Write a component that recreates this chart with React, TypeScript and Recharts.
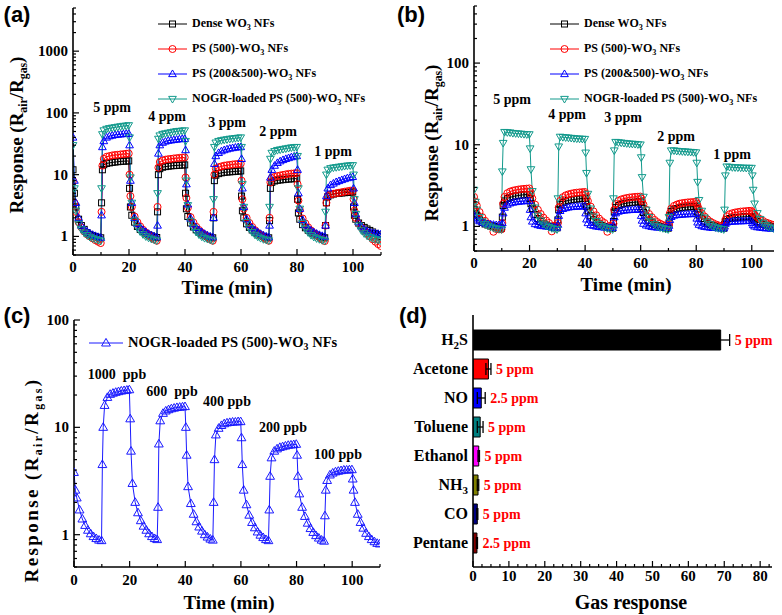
import React from 'react';
import { LineChart, Line, XAxis, YAxis, BarChart, Bar, Cell, ErrorBar, LabelList } from 'recharts';

const SERIF = '"Liberation Serif","Times New Roman",serif';
const SANS = '"Liberation Sans",Arial,sans-serif';

// sample times (min), shared by all transient curves
const T = [
  0, 0.5, 1, 2, 3, 4, 5, 6, 7, 8, 9, 9.9,
  10.2, 10.5, 11, 12, 13, 14, 15, 16, 17, 18, 19, 19.9,
  20.2, 20.5, 21, 22, 23, 24, 25, 26, 27, 28, 29, 29.9,
  30.2, 30.5, 31, 32, 33, 34, 35, 36, 37, 38, 39, 39.9,
  40.2, 40.5, 41, 42, 43, 44, 45, 46, 47, 48, 49, 49.9,
  50.2, 50.5, 51, 52, 53, 54, 55, 56, 57, 58, 59, 59.9,
  60.2, 60.5, 61, 62, 63, 64, 65, 66, 67, 68, 69, 69.9,
  70.2, 70.5, 71, 72, 73, 74, 75, 76, 77, 78, 79, 79.9,
  80.2, 80.5, 81, 82, 83, 84, 85, 86, 87, 88, 89, 89.9,
  90.2, 90.5, 91, 92, 93, 94, 95, 96, 97, 98, 99, 99.9,
  100.2, 100.5, 101, 102, 103, 104, 105, 106, 107, 108, 109, 109.9,
];

// (a) responses
const aDense = [
  12, 5, 3, 1.9, 1.5, 1.3, 1.15, 1.08, 1.03, 1.0, 0.97, 0.95,
  3.5, 12, 14.5, 15.2, 15.5, 15.8, 16, 16.2, 16.4, 16.5, 16.6, 16.7,
  6, 3, 2.2, 1.7, 1.45, 1.3, 1.2, 1.12, 1.06, 1.02, 0.98, 0.96,
  2.5, 10, 12.5, 13.2, 13.5, 13.7, 13.9, 14, 14.1, 14.2, 14.3, 14.4,
  5, 2.8, 2.1, 1.65, 1.42, 1.28, 1.18, 1.1, 1.05, 1.0, 0.97, 0.95,
  2, 8, 9.8, 10.4, 10.7, 10.9, 11, 11.1, 11.2, 11.3, 11.4, 11.5,
  4.5, 2.6, 2, 1.6, 1.4, 1.27, 1.17, 1.1, 1.05, 1, 0.97, 0.95,
  1.8, 6, 7.5, 7.9, 8.1, 8.2, 8.3, 8.4, 8.5, 8.55, 8.6, 8.65,
  4, 2.4, 1.9, 1.55, 1.38, 1.26, 1.17, 1.1, 1.05, 1, 0.97, 0.95,
  1.5, 3.5, 4.4, 4.7, 4.85, 4.95, 5, 5.05, 5.1, 5.15, 5.2, 5.25,
  3, 2.2, 1.9, 1.65, 1.5, 1.4, 1.32, 1.25, 1.18, 1.12, 1.06, 1.0,
];
const aPS500 = [
  8, 3.5, 2.5, 1.7, 1.4, 1.2, 1.08, 1, 0.93, 0.87, 0.82, 0.78,
  2.5, 14, 18, 19.5, 20, 20.5, 20.8, 21, 21.3, 21.5, 21.8, 22,
  10, 4.5, 3, 2.1, 1.7, 1.45, 1.28, 1.15, 1.05, 0.97, 0.9, 0.85,
  3, 13, 16, 17, 17.5, 17.8, 18, 18.3, 18.5, 18.7, 18.9, 19,
  9, 4.2, 2.9, 2.05, 1.68, 1.43, 1.27, 1.15, 1.05, 0.97, 0.9, 0.85,
  2.5, 10, 12.5, 13.2, 13.6, 14, 14.2, 14.4, 14.6, 14.8, 14.9, 15,
  8, 4, 2.8, 2, 1.65, 1.42, 1.26, 1.14, 1.05, 0.97, 0.9, 0.85,
  2, 7.5, 8.8, 9.2, 9.5, 9.7, 9.9, 10.1, 10.3, 10.4, 10.5, 10.6,
  7, 3.8, 2.7, 1.95, 1.62, 1.4, 1.25, 1.13, 1.04, 0.96, 0.89, 0.84,
  1.5, 3.5, 4.5, 4.8, 4.9, 5, 5.1, 5.2, 5.3, 5.4, 5.5, 5.5,
  4, 2.6, 2, 1.6, 1.4, 1.25, 1.12, 1, 0.9, 0.82, 0.75, 0.7,
];
const aPS200 = [
  40, 8, 3.5, 2, 1.5, 1.3, 1.2, 1.12, 1.06, 1.02, 0.98, 0.95,
  2.2, 28, 35, 40, 42, 43, 44, 44.5, 45, 45.5, 46, 46,
  30, 8, 3.5, 2, 1.6, 1.4, 1.27, 1.18, 1.1, 1.05, 1, 0.97,
  1.5, 22, 30, 33, 34.5, 35.5, 36, 36.5, 37, 37.5, 38, 38,
  25, 7, 3.3, 1.95, 1.58, 1.38, 1.26, 1.17, 1.1, 1.04, 1, 0.97,
  2, 15, 20, 22.5, 24, 25, 25.8, 26.5, 27, 27.5, 28, 28,
  18, 6, 3, 1.9, 1.55, 1.36, 1.25, 1.16, 1.1, 1.04, 1, 0.97,
  1.5, 9, 12, 14, 15.5, 16.5, 17.3, 18, 18.6, 19.2, 19.7, 20,
  12, 5, 2.8, 1.85, 1.52, 1.35, 1.25, 1.17, 1.11, 1.06, 1.02, 0.99,
  1.5, 4.5, 6, 6.8, 7.2, 7.6, 7.9, 8.2, 8.5, 8.8, 9, 9.2,
  6, 3.5, 2.3, 1.7, 1.45, 1.3, 1.22, 1.17, 1.14, 1.12, 1.1, 1.08,
];
const aNOGR = [
  30, 6, 2.6, 1.6, 1.3, 1.15, 1.05, 0.98, 0.93, 0.9, 0.87, 0.85,
  6, 45, 52, 55, 56.5, 57.5, 58.5, 59.5, 60.5, 61.5, 62, 63,
  40, 9, 3.5, 1.8, 1.4, 1.2, 1.08, 1, 0.95, 0.91, 0.88, 0.86,
  5, 38, 43, 45.5, 46.5, 47.5, 48.5, 49.5, 50.5, 51, 51.5, 52,
  35, 8, 3.2, 1.75, 1.38, 1.18, 1.07, 0.99, 0.94, 0.91, 0.88, 0.86,
  4, 28, 33, 35, 36, 36.7, 37.3, 38, 38.5, 39, 39.5, 40,
  28, 7, 3, 1.7, 1.35, 1.17, 1.06, 0.99, 0.94, 0.9, 0.88, 0.86,
  3, 18, 22.5, 24, 25, 25.5, 26, 26.5, 27, 27.5, 27.8, 28,
  20, 6, 2.8, 1.65, 1.33, 1.16, 1.05, 0.98, 0.93, 0.9, 0.87, 0.85,
  2.5, 10, 12, 12.7, 13, 13.2, 13.4, 13.6, 13.8, 14, 14.1, 14.2,
  10, 4, 2.3, 1.5, 1.25, 1.12, 1.03, 0.97, 0.93, 0.9, 0.88, 0.86,
];

// (b) responses
const bDense = [
  1.6, 1.45, 1.35, 1.2, 1.12, 1.07, 1.04, 1.02, 1, 0.98, 0.96, 0.95,
  1.3, 1.8, 2.05, 2.2, 2.27, 2.32, 2.36, 2.39, 2.42, 2.44, 2.46, 2.47,
  2.2, 1.9, 1.65, 1.4, 1.25, 1.15, 1.08, 1.04, 1.01, 0.99, 0.97, 0.96,
  1.2, 1.6, 1.85, 1.97, 2.04, 2.08, 2.11, 2.14, 2.16, 2.18, 2.2, 2.21,
  2, 1.75, 1.55, 1.35, 1.22, 1.13, 1.07, 1.03, 1, 0.98, 0.96, 0.95,
  1.15, 1.5, 1.7, 1.8, 1.86, 1.9, 1.93, 1.95, 1.97, 1.98, 2, 2,
  1.85, 1.65, 1.48, 1.3, 1.19, 1.11, 1.06, 1.03, 1, 0.98, 0.96, 0.95,
  1.1, 1.35, 1.52, 1.6, 1.65, 1.68, 1.7, 1.72, 1.73, 1.74, 1.75, 1.76,
  1.65, 1.5, 1.38, 1.25, 1.16, 1.1, 1.05, 1.02, 1, 0.98, 0.96, 0.95,
  1.05, 1.15, 1.22, 1.25, 1.27, 1.28, 1.29, 1.3, 1.31, 1.31, 1.32, 1.32,
  1.28, 1.24, 1.2, 1.15, 1.1, 1.07, 1.04, 1.02, 1, 0.98, 0.97, 0.96,
];
const bPS500 = [
  2.3, 2, 1.8, 1.5, 1.3, 1.17, 1.08, 1, 0.86, 0.93, 0.92, 0.92,
  1.1, 1.9, 2.3, 2.55, 2.67, 2.74, 2.79, 2.83, 2.86, 2.88, 2.9, 2.92,
  2.7, 2.45, 2.2, 1.85, 1.6, 1.42, 1.28, 1.18, 1.1, 0.87, 1.02, 1,
  1.1, 1.7, 2.05, 2.28, 2.4, 2.47, 2.52, 2.56, 2.59, 2.61, 2.63, 2.64,
  2.5, 2.3, 2.05, 1.75, 1.53, 1.37, 1.25, 1.16, 1.1, 0.86, 1.02, 1,
  1.08, 1.6, 1.88, 2.05, 2.14, 2.19, 2.23, 2.26, 2.28, 2.3, 2.31, 2.32,
  2.2, 2.05, 1.85, 1.6, 1.42, 1.3, 1.2, 1.13, 1.08, 1.04, 1.02, 1,
  1.05, 1.45, 1.65, 1.78, 1.85, 1.9, 1.93, 1.95, 1.97, 1.98, 1.99, 2,
  1.9, 1.78, 1.62, 1.45, 1.32, 1.22, 1.15, 1.1, 1.06, 1.03, 1.01, 1,
  1.02, 1.2, 1.33, 1.41, 1.45, 1.48, 1.5, 1.52, 1.53, 1.54, 1.55, 1.55,
  1.5, 1.45, 1.38, 1.3, 1.23, 1.17, 1.12, 1.09, 1.06, 1.04, 1.02, 1.01,
];
const bPS200 = [
  1.35, 1.28, 1.22, 1.16, 1.12, 1.09, 1.07, 1.06, 1.05, 1.04, 1.04, 1.03,
  1.1, 1.45, 1.7, 1.85, 1.92, 1.96, 1.99, 2.01, 2.03, 2.04, 2.05, 2.05,
  1.6, 1.3, 1.15, 1.07, 1.04, 1.02, 1.01, 1, 0.99, 0.98, 0.97, 0.97,
  1.05, 1.35, 1.55, 1.64, 1.68, 1.71, 1.73, 1.74, 1.75, 1.76, 1.76, 1.77,
  1.45, 1.22, 1.1, 1.04, 1.02, 1, 0.99, 0.98, 0.97, 0.97, 0.96, 0.96,
  1.03, 1.3, 1.45, 1.52, 1.55, 1.57, 1.58, 1.59, 1.6, 1.6, 1.61, 1.61,
  1.35, 1.18, 1.08, 1.03, 1.01, 0.99, 0.98, 0.97, 0.97, 0.96, 0.96, 0.96,
  1.02, 1.2, 1.31, 1.36, 1.38, 1.39, 1.4, 1.41, 1.41, 1.42, 1.42, 1.42,
  1.25, 1.12, 1.05, 1.01, 0.99, 0.98, 0.97, 0.96, 0.96, 0.95, 0.95, 0.95,
  1, 1.08, 1.12, 1.14, 1.15, 1.15, 1.16, 1.16, 1.16, 1.17, 1.17, 1.17,
  1.1, 1.04, 1, 0.98, 0.97, 0.96, 0.95, 0.95, 0.94, 0.94, 0.93, 0.93,
];
const bNOGR = [
  2.8, 2, 1.6, 1.3, 1.15, 1.07, 1.02, 0.99, 0.96, 0.94, 0.93, 0.92,
  4.7, 10.5, 14.3, 14.2, 14.1, 13.9, 13.8, 13.7, 13.6, 13.5, 13.4, 13.4,
  9, 5, 2.7, 1.7, 1.35, 1.18, 1.08, 1.02, 0.98, 0.95, 0.93, 0.92,
  2.2, 9.5, 12.5, 12.4, 12.3, 12.2, 12.1, 12, 11.9, 11.85, 11.8, 11.75,
  8, 4.5, 2.5, 1.65, 1.32, 1.16, 1.07, 1.01, 0.97, 0.95, 0.93, 0.92,
  2.2, 8.5, 10.8, 10.7, 10.6, 10.5, 10.4, 10.3, 10.25, 10.2, 10.1, 10.05,
  7, 4, 2.3, 1.6, 1.3, 1.15, 1.06, 1, 0.97, 0.95, 0.93, 0.92,
  1.3, 6, 8.5, 8.5, 8.4, 8.35, 8.3, 8.25, 8.2, 8.15, 8.1, 8.05,
  6, 3.5, 2.1, 1.55, 1.28, 1.14, 1.06, 1, 0.97, 0.95, 0.93, 0.92,
  1.6, 4.2, 5.4, 5.35, 5.3, 5.28, 5.26, 5.24, 5.22, 5.2, 5.2, 5.2,
  4.2, 2.8, 1.9, 1.45, 1.23, 1.11, 1.04, 0.99, 0.96, 0.94, 0.93, 0.92,
];

// (c) response (ppb levels)
const cNOGR = [
  3.8, 2.6, 2.2, 1.7, 1.4, 1.22, 1.1, 1.02, 0.96, 0.92, 0.89, 0.88,
  4.5, 10, 16, 19, 20.3, 20.8, 21.2, 21.5, 21.8, 22, 22.2, 22.4,
  12, 6, 3, 2, 1.6, 1.35, 1.2, 1.1, 1.02, 0.96, 0.92, 0.9,
  1.8, 7, 11.5, 13.5, 14.2, 14.6, 14.9, 15.1, 15.3, 15.4, 15.5, 15.6,
  10, 5.5, 2.8, 1.95, 1.55, 1.32, 1.18, 1.08, 1, 0.95, 0.91, 0.89,
  2, 5, 8.5, 9.8, 10.4, 10.8, 11, 11.1, 11.2, 11.2, 11.3, 11.3,
  8, 4.5, 2.6, 1.9, 1.52, 1.3, 1.16, 1.06, 0.99, 0.94, 0.9, 0.88,
  1.7, 3.5, 5.2, 6, 6.3, 6.5, 6.6, 6.7, 6.8, 6.85, 6.9, 6.95,
  5.5, 3.5, 2.4, 1.8, 1.48, 1.28, 1.14, 1.05, 0.98, 0.93, 0.89, 0.87,
  1.5, 2.6, 3.2, 3.6, 3.75, 3.85, 3.9, 3.95, 4, 4, 4.02, 4.03,
  3.3, 2.6, 2, 1.55, 1.3, 1.15, 1.03, 0.96, 0.9, 0.86, 0.83, 0.82,
];

// (d) selectivity
const gasNames = ['H2S', 'Acetone', 'NO', 'Toluene', 'Ethanol', 'NH3', 'CO', 'Pentane'];
const gasResp = [69, 4.3, 2.3, 2.0, 1.6, 1.4, 1.2, 1.1];
const gasErr = [2.5, 0.7, 1.1, 0.8, 0.2, 0.2, 0.15, 0.15];
const gasConc = ['5 ppm', '5 ppm', '2.5 ppm', '5 ppm', '5 ppm', '5 ppm', '5 ppm', '2.5 ppm'];
const gasColors = ['#000000', '#ff0000', '#0000ff', '#008080', '#ff00ff', '#808000', '#000080', '#800000'];

// ticks
const timeTicks = [0, 10, 20, 30, 40, 50, 60, 70, 80, 90, 100, 110];
const timeTicksB = [0, 10, 20, 30, 40, 50, 60, 70, 80, 90, 100];
const timeMajors = [0, 20, 40, 60, 80, 100];
const aYTicks = [0.5, 0.6, 0.7, 0.8, 0.9, 1, 2, 3, 4, 5, 6, 7, 8, 9, 10, 20, 30, 40, 50, 60, 70, 80, 90, 100, 200, 300, 400, 500, 600, 700, 800, 900, 1000, 2000, 3000, 4000, 5000];
const bYTicks = [0.5, 0.6, 0.7, 0.8, 0.9, 1, 2, 3, 4, 5, 6, 7, 8, 9, 10, 20, 30, 40, 50, 60, 70, 80, 90, 100, 200, 300, 400, 500];
const cYTicks = [0.5, 0.6, 0.7, 0.8, 0.9, 1, 2, 3, 4, 5, 6, 7, 8, 9, 10, 20, 30, 40, 50, 60, 70, 80, 90, 100];
const decades = [1, 10, 100, 1000];
const respTicks = [0, 2.5, 5, 7.5, 10, 12.5, 15, 17.5, 20, 22.5, 25, 27.5, 30, 32.5, 35, 37.5, 40, 42.5, 45, 47.5, 50, 52.5, 55, 57.5, 60, 62.5, 65, 67.5, 70, 72.5, 75, 77.5, 80, 82.5];
const respMajors = [0, 10, 20, 30, 40, 50, 60, 70, 80];

const aConc = ['5 ppm', '4 ppm', '3 ppm', '2 ppm', '1 ppm'];
const cConc = ['1000  ppb', '600  ppb', '400 ppb', '200 ppb', '100 ppb'];

const TEAL = '#129a8c';
const AX = { stroke: '#000', strokeWidth: 1.6 };

const aData = T.map((t, i) => ({ t, dense: aDense[i], ps500: aPS500[i], ps200: aPS200[i], nogr: aNOGR[i] }));
const bData = T.map((t, i) => ({ t, dense: bDense[i], ps500: bPS500[i], ps200: bPS200[i], nogr: bNOGR[i] }));
const cData = T.map((t, i) => ({ t, nogr: cNOGR[i] }));
const dData = gasNames.map((name, i) => ({ name, v: gasResp[i], e: gasErr[i], c: gasConc[i] }));

type Shape = 'square' | 'circle' | 'up' | 'down';
const fourSeries: { key: string; color: string; shape: Shape; size: number }[] = [
  { key: 'dense', color: '#000000', shape: 'square', size: 6 },
  { key: 'ps500', color: '#ff0000', shape: 'circle', size: 7 },
  { key: 'ps200', color: '#0000ff', shape: 'up', size: 7 },
  { key: 'nogr', color: TEAL, shape: 'down', size: 7 },
];

function Mk({ cx, cy, shape, color, size }: { cx: number; cy: number; shape: Shape; color: string; size: number }) {
  if (cx == null || cy == null || isNaN(cx) || isNaN(cy)) return null;
  const h = size / 2;
  const c = { fill: 'none', stroke: color, strokeWidth: 1 };
  if (shape === 'square') return <rect x={cx - h} y={cy - h} width={size} height={size} {...c} />;
  if (shape === 'circle') return <circle cx={cx} cy={cy} r={h} {...c} />;
  if (shape === 'up')
    return <polygon points={`${cx},${cy - h * 1.15} ${cx - h * 1.1},${cy + h * 0.75} ${cx + h * 1.1},${cy + h * 0.75}`} {...c} />;
  return <polygon points={`${cx},${cy + h * 1.15} ${cx - h * 1.1},${cy - h * 0.75} ${cx + h * 1.1},${cy - h * 0.75}`} {...c} />;
}

const tickText = { fontFamily: SERIF, fontWeight: 'bold' as const, fill: '#000' };

function BottomTick(p: any) {
  const { x, y, payload, majors, dy, fs } = p;
  const v = payload.value;
  const major = majors.indexOf(v) >= 0;
  return (
    <g>
      <line x1={x} x2={x} y1={y} y2={y - (major ? 6 : 3)} stroke="#000" strokeWidth={1.2} />
      {major && (
        <text x={x} y={y + dy} textAnchor="middle" fontSize={fs} {...tickText}>
          {String(v)}
        </text>
      )}
    </g>
  );
}
function TopTick(p: any) {
  const { x, y, payload, majors } = p;
  const major = majors.indexOf(payload.value) >= 0;
  return <line x1={x} x2={x} y1={y} y2={y + (major ? 6 : 3)} stroke="#000" strokeWidth={1.2} />;
}
function LeftTick(p: any) {
  const { x, y, payload, majors, fs } = p;
  const v = payload.value;
  const major = majors.indexOf(v) >= 0;
  return (
    <g>
      <line x1={x} x2={x + (major ? 6 : 3)} y1={y} y2={y} stroke="#000" strokeWidth={1.2} />
      {major && (
        <text x={x - 5} y={y + 5} textAnchor="end" fontSize={fs} {...tickText}>
          {String(v)}
        </text>
      )}
    </g>
  );
}
function RightTick(p: any) {
  const { x, y, payload, majors } = p;
  const major = majors.indexOf(payload.value) >= 0;
  return <line x1={x} x2={x - (major ? 6 : 3)} y1={y} y2={y} stroke="#000" strokeWidth={1.2} />;
}
function GasTick(p: any) {
  const { x, y, payload } = p;
  const parts: string[] = String(payload.value).split(/(\d)/).filter((s: string) => s.length > 0);
  let shifted = false;
  return (
    <text x={x} y={y + 5} textAnchor="end" fontSize={16} {...tickText}>
      {parts.map((s, i) => {
        if (/\d/.test(s)) {
          shifted = true;
          return <tspan key={i} dy={4} fontSize={11}>{s}</tspan>;
        }
        const d = shifted ? -4 : 0;
        shifted = false;
        return <tspan key={i} dy={d}>{s}</tspan>;
      })}
    </text>
  );
}
function BarLabel(p: any) {
  const vb = p.viewBox || p;
  const i = p.index;
  const x = vb.x, y = vb.y, w = vb.width, h = vb.height;
  const v = gasResp[i], e = gasErr[i];
  const xe = x + (w * (v + e)) / v + 5;
  return (
    <text x={xe} y={y + h / 2 + 5} fill="#ff0000" fontSize={14} fontFamily={SERIF} fontWeight="bold">
      {gasConc[i]}
    </text>
  );
}

function TimePanel(props: {
  left: number; top: number; w: number; h: number;
  margin: { top: number; right: number; left: number; bottom: number };
  yW: number; xH: number; data: any[]; series: typeof fourSeries;
  xDomain: [number, number]; xTicks: number[]; yDomain: [number, number]; yTicks: number[]; xDy: number;
}) {
  const { left, top, w, h, margin, yW, xH, data, series, xDomain, xTicks, yDomain, yTicks, xDy } = props;
  return (
    <div style={{ position: 'absolute', left, top }}>
      <LineChart width={w} height={h} data={data} margin={margin}>
        <XAxis xAxisId="x" type="number" dataKey="t" domain={xDomain} ticks={xTicks} interval={0} allowDataOverflow
          height={xH} tickSize={0} tickMargin={0} tickLine={false} axisLine={AX}
          tick={(p: any) => <BottomTick {...p} majors={timeMajors} dy={xDy} fs={15} />} />
        <XAxis xAxisId="top" orientation="top" type="number" domain={xDomain} ticks={xTicks} interval={0} allowDataOverflow
          height={0} tickSize={0} tickMargin={0} tickLine={false} axisLine={AX} tick={false} />
        <YAxis yAxisId="y" type="number" scale="log" domain={yDomain} ticks={yTicks} interval={0} allowDataOverflow
          width={yW} tickSize={0} tickMargin={0} tickLine={false} axisLine={AX}
          tick={(p: any) => <LeftTick {...p} majors={decades} fs={15} />} />
        <YAxis yAxisId="r" orientation="right" type="number" scale="log" domain={yDomain} ticks={yTicks} interval={0} allowDataOverflow
          width={0} tickSize={0} tickMargin={0} tickLine={false} axisLine={AX}
          tick={(p: any) => <RightTick {...p} majors={decades} />} />
        {series.map((s) => (
          <Line key={s.key} xAxisId="x" yAxisId="y" dataKey={s.key} type="linear" stroke={s.color} strokeWidth={1}
            isAnimationActive={false} activeDot={false}
            dot={(p: any) => <Mk key={`${s.key}${p.index}`} cx={p.cx} cy={p.cy} shape={s.shape} color={s.color} size={s.size} />} />
        ))}
      </LineChart>
    </div>
  );
}

const Sub = ({ children, size = '0.68em', drop = '-0.32em' }: any) => (
  <span style={{ fontSize: size, verticalAlign: drop }}>{children}</span>
);

function Txt({ x, y, size, children, color = '#000', family = SERIF, rotate = false, spacing = 0 }: any) {
  return (
    <div style={{
      position: 'absolute', left: x, top: y, transform: `translate(-50%,-50%)${rotate ? ' rotate(-90deg)' : ''}`,
      fontFamily: family, fontWeight: 'bold', fontSize: size, color, whiteSpace: 'pre', lineHeight: 1,
      letterSpacing: spacing,
    }}>{children}</div>
  );
}

function LegendRow({ x, y, len, color, shape, size, fs, children }: any) {
  return (
    <div style={{ position: 'absolute', left: x, top: y - 10, height: 20, display: 'flex', alignItems: 'center' }}>
      <svg width={len} height={20} style={{ display: 'block' }}>
        <line x1={0} x2={len} y1={10} y2={10} stroke={color} strokeWidth={1} />
        <Mk cx={len / 2} cy={10} shape={shape} color={color} size={size} />
      </svg>
      <span style={{ marginLeft: 5, fontFamily: SERIF, fontWeight: 'bold', fontSize: fs, whiteSpace: 'pre', color: '#000' }}>
        {children}
      </span>
    </div>
  );
}

const legendLabels = [
  <>Dense WO<Sub>3</Sub> NFs</>,
  <>PS (500)-WO<Sub>3</Sub> NFs</>,
  <>PS (200&amp;500)-WO<Sub>3</Sub> NFs</>,
  <>NOGR-loaded PS (500)-WO<Sub>3</Sub> NFs</>,
];

const yTitle = <>Response (R<Sub size="0.62em" drop="-0.35em">air</Sub>/R<Sub size="0.62em" drop="-0.35em">gas</Sub>)</>;

export default function App() {
  const aX = [112, 167, 227, 278, 333];
  const aY = [108, 117, 123, 132, 152];
  const bX = [512, 567, 623, 676, 732];
  const bY = [100, 115, 118, 137, 155];
  const cX = [117, 172, 227, 283, 338];
  const cY = [375, 392, 402, 428, 455];
  return (
    <div style={{ position: 'absolute', left: 0, top: 0, width: 782, height: 615, background: '#fff', overflow: 'hidden' }}>
      <TimePanel left={0} top={0} w={391} h={300} margin={{ top: 8, right: 10, left: 0, bottom: 15 }} yW={73} xH={30}
        data={aData} series={fourSeries} xDomain={[0, 110]} xTicks={timeTicks} yDomain={[0.5, 5000]} yTicks={aYTicks} xDy={17} />
      <TimePanel left={391} top={0} w={391} h={300} margin={{ top: 6, right: 8, left: 0, bottom: 19 }} yW={83} xH={30}
        data={bData} series={fourSeries} xDomain={[0, 108]} xTicks={timeTicksB} yDomain={[0.5, 500]} yTicks={bYTicks} xDy={17} />
      <TimePanel left={0} top={300} w={391} h={315} margin={{ top: 20, right: 11, left: 0, bottom: 18 }} yW={74} xH={30}
        data={cData} series={[{ key: 'nogr', color: '#1a1aff', shape: 'up', size: 8 }]} xDomain={[0, 110]} xTicks={timeTicks}
        yDomain={[0.5, 100]} yTicks={cYTicks} xDy={18} />

      <div style={{ position: 'absolute', left: 391, top: 300 }}>
        <BarChart layout="vertical" width={391} height={315} data={dData} margin={{ top: 15, right: 10, left: 0, bottom: 18 }}>
          <XAxis xAxisId="x" type="number" domain={[0, 83.3]} ticks={respTicks} interval={0} allowDataOverflow height={30}
            tickSize={0} tickMargin={0} tickLine={false} axisLine={AX}
            tick={(p: any) => <BottomTick {...p} majors={respMajors} dy={14} fs={15} />} />
          <XAxis xAxisId="top" orientation="top" type="number" domain={[0, 83.3]} ticks={respTicks} interval={0} allowDataOverflow height={0}
            tickSize={0} tickMargin={0} tickLine={false} axisLine={AX}
            tick={(p: any) => <TopTick {...p} majors={respMajors} />} />
          <YAxis yAxisId="y" type="category" dataKey="name" width={82} padding={{ top: 10, bottom: 10 }} interval={0}
            tickSize={0} tickMargin={5} tickLine={false} axisLine={AX} tick={(p: any) => <GasTick {...p} />} />
          <YAxis yAxisId="r" orientation="right" type="category" dataKey="name" width={0} padding={{ top: 10, bottom: 10 }}
            tickLine={false} tick={false} axisLine={AX} />
          <Bar xAxisId="x" yAxisId="y" dataKey="v" barSize={20} stroke="#000" strokeWidth={1} isAnimationActive={false}>
            {dData.map((d, i) => <Cell key={d.name} fill={gasColors[i]} />)}
            <ErrorBar dataKey="e" direction="x" width={6} stroke="#000" strokeWidth={1.3} />
            <LabelList dataKey="c" content={(p: any) => <BarLabel {...p} />} />
          </Bar>
        </BarChart>
      </div>

      {/* legends */}
      {fourSeries.map((s, i) => (
        <LegendRow key={'la' + s.key} x={158} y={24 + i * 25} len={29} color={s.color} shape={s.shape} size={s.size} fs={12}>
          {legendLabels[i]}
        </LegendRow>
      ))}
      {fourSeries.map((s, i) => (
        <LegendRow key={'lb' + s.key} x={550} y={24 + i * 25} len={29} color={s.color} shape={s.shape} size={s.size} fs={12}>
          {legendLabels[i]}
        </LegendRow>
      ))}
      <LegendRow x={89} y={343} len={34} color="#1a1aff" shape="up" size={8} fs={14.5}>
        NOGR-loaded PS (500)-WO<Sub>3</Sub> NFs
      </LegendRow>

      {/* concentration labels */}
      {aConc.map((s, i) => <Txt key={'ca' + i} x={aX[i]} y={aY[i]} size={14}>{s}</Txt>)}
      {aConc.map((s, i) => <Txt key={'cb' + i} x={bX[i]} y={bY[i]} size={14}>{s}</Txt>)}
      {cConc.map((s, i) => <Txt key={'cc' + i} x={cX[i]} y={cY[i]} size={14}>{s}</Txt>)}

      {/* axis titles */}
      <Txt x={18} y={135} size={19} rotate>{yTitle}</Txt>
      <Txt x={433} y={143} size={19} rotate>{yTitle}</Txt>
      <Txt x={33} y={480} size={19} rotate spacing={2.4}>{yTitle}</Txt>
      <Txt x={227} y={287} size={19}>Time (min)</Txt>
      <Txt x={626} y={284} size={19}>Time (min)</Txt>
      <Txt x={229} y={602} size={19}>Time (min)</Txt>
      <Txt x={631} y={602} size={20}>Gas response</Txt>

      {/* panel labels */}
      <Txt x={17} y={15} size={22} family={SANS}>(a)</Txt>
      <Txt x={411} y={15} size={22} family={SANS}>(b)</Txt>
      <Txt x={17} y={316} size={22} family={SANS}>(c)</Txt>
      <Txt x={413} y={316} size={22} family={SANS}>(d)</Txt>
    </div>
  );
}
